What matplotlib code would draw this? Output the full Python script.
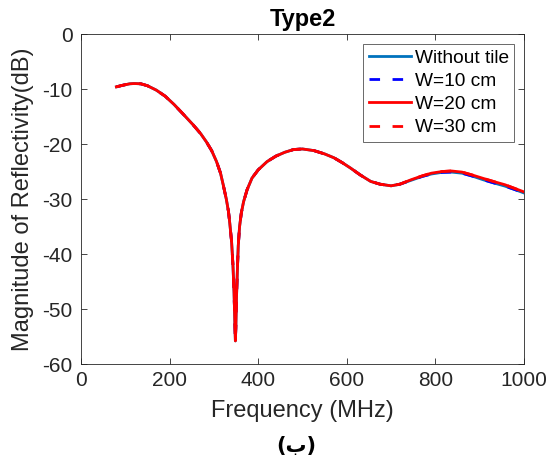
import numpy as np
import matplotlib
matplotlib.use('Agg')
import matplotlib.pyplot as plt

plt.rcParams['font.family'] = ['Liberation Sans', 'DejaVu Sans']
plt.rcParams['axes.unicode_minus'] = False

# (MHz, dB)
freq = [80, 95, 110, 120, 135, 150, 170, 190, 210, 230, 253, 270, 283, 295, 306,
        315, 321, 328, 333, 336, 340, 343, 345.5, 347.5, 348.5, 349.5, 351, 353,
        355, 358, 362, 367, 375, 386, 400, 420, 440, 460, 480, 500, 526, 550,
        571, 590, 609, 630, 654, 675, 700, 720, 745, 770, 791, 815, 836, 860,
        882, 910, 935, 957, 980, 1000]
refl_w20 = [-9.6, -9.3, -9.05, -9.0, -9.05, -9.4, -10.2, -11.3, -12.8, -14.5,
            -16.5, -18.1, -19.6, -21.2, -23.2, -25.3, -27.4, -30.0, -32.3,
            -34.5, -37.8, -42.0, -47.0, -53.0, -55.8, -53.5, -48.0, -43.0,
            -38.5, -35.0, -32.5, -30.5, -28.3, -26.2, -24.7, -23.2, -22.2,
            -21.5, -21.0, -20.9, -21.2, -21.8, -22.5, -23.4, -24.4, -25.6,
            -26.8, -27.3, -27.6, -27.3, -26.5, -25.8, -25.3, -25.0, -24.9,
            -25.1, -25.6, -26.3, -26.9, -27.4, -28.1, -28.7]
base_shift = [0.0] * 50 + [0.1, 0.1, 0.15, 0.15, 0.2, 0.2, 0.2, 0.25, 0.25, 0.25, 0.2, 0.2]
refl_base = [v - d for v, d in zip(refl_w20, base_shift)]
refl_w10 = refl_base
refl_w30 = refl_w20

dash = (0, (3.8, 4.5))

fig = plt.figure(figsize=(5.54, 4.63), dpi=100)
ax = fig.add_axes([0.1462, 0.2138, 0.7996, 0.7127])

ax.plot(freq, refl_base, color='#0072BD', lw=2, label='Without tile')
ax.plot(freq, refl_w10, color='b', lw=2, ls=dash, label='W=10 cm')
ax.plot(freq, refl_w20, color='r', lw=2, label='W=20 cm')
ax.plot(freq, refl_w30, color='r', lw=2, ls=dash, label='W=30 cm')

ax.set_xlim(0, 1000)
ax.set_ylim(-60, 0)
ax.set_xticks([0, 200, 400, 600, 800, 1000])
ax.set_yticks([-60, -50, -40, -30, -20, -10, 0])
ax.tick_params(direction='in', top=True, right=True, labelsize=15,
               colors='#262626', length=4, width=0.6)
ax.tick_params(axis='x', pad=5)
ax.tick_params(axis='y', pad=6)
for s in ax.spines.values():
    s.set_color('#262626')
    s.set_linewidth(0.6)

ax.set_xlabel('Frequency (MHz)', fontsize=17, color='#262626', labelpad=7)
ax.set_ylabel('Magnitude of Reflectivity(dB)', fontsize=17, color='#262626', labelpad=6)
ax.set_title('Type2', fontsize=17, fontweight='bold', pad=6)

leg = ax.legend(loc='upper right', fontsize=13.8, fancybox=False,
                edgecolor='#262626', handlelength=2.2, handletextpad=0.2,
                borderpad=0.3, labelspacing=0.3, borderaxespad=0.5)
leg.get_frame().set_linewidth(0.6)

fig.text(0.535, 0.037, '(ب)', ha='center', va='center', fontsize=15,
         fontweight='bold', family=['DejaVu Sans'])

fig.savefig('out.png', dpi=100)
